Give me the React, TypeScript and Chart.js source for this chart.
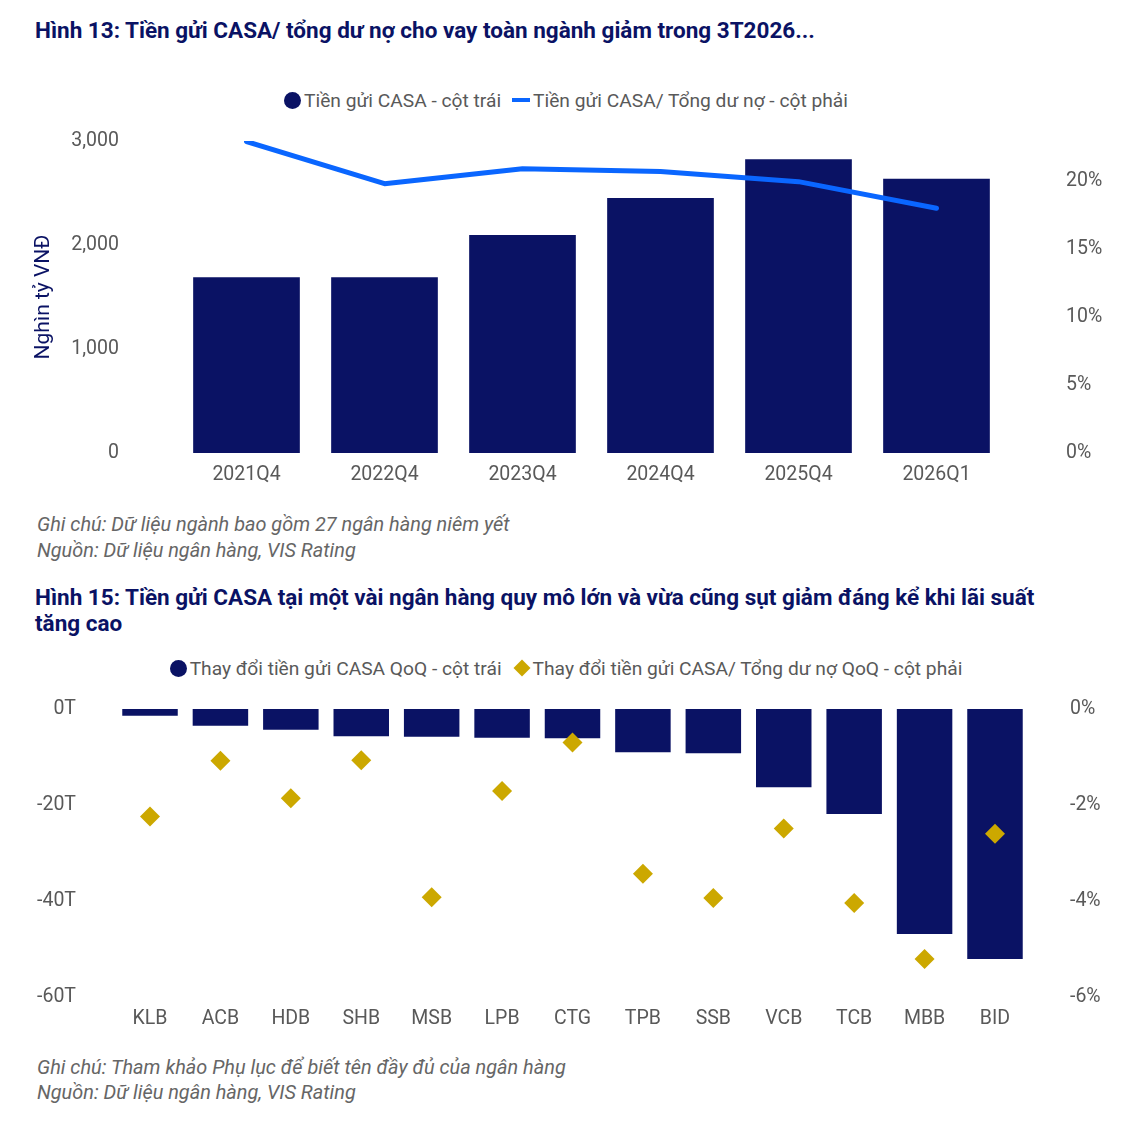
import React, { useEffect, useRef } from 'react';
import { Chart, registerables } from 'chart.js';

Chart.register(...registerables);

// ---------- Data ----------
const periods = ['2021Q4', '2022Q4', '2023Q4', '2024Q4', '2025Q4', '2026Q1'];
const casaDeposits = [1689, 1689, 2096, 2452, 2824, 2638];
const casaToLoans = [22.9, 19.8, 20.9, 20.7, 19.95, 18.0];
const leftTicks1 = [0, 1000, 2000, 3000];
const rightTicks1 = [0, 5, 10, 15, 20];

const banks = ['KLB', 'ACB', 'HDB', 'SHB', 'MSB', 'LPB', 'CTG', 'TPB', 'SSB', 'VCB', 'TCB', 'MBB', 'BID'];
const casaChangeQoQ = [-1.4, -3.5, -4.3, -5.7, -5.8, -6.0, -6.1, -9.0, -9.2, -16.3, -21.9, -46.9, -52.1];
const casaRatioChangeQoQ = [-2.24, -1.08, -1.86, -1.07, -3.92, -1.71, -0.7, -3.43, -3.94, -2.49, -4.04, -5.21, -2.6];
const leftTicks2 = [-60, -40, -20, 0];
const rightTicks2 = [-6, -4, -2, 0];

// ---------- Styles ----------
const NAVY = '#0A1264';
const BLUE = '#0A66FF';
const GOLD = '#CCA800';
const TICK = '#595959';
const FONT = 'Roboto';

Chart.defaults.font.family = FONT;

const tickFont = { family: FONT, size: 19.5 };
const noGrid = { display: false, drawTicks: false, tickLength: 0 };

function setTicks(values: number[]) {
  return (scale: any) => {
    scale.ticks = values.map((v) => ({ value: v }));
  };
}

function fitY(width: number) {
  return (s: any) => {
    s.width = width;
    s.paddingTop = 12;
    s.paddingBottom = 12;
  };
}

function ChartOne() {
  const ref = useRef<HTMLCanvasElement | null>(null);
  useEffect(() => {
    if (!ref.current) return;
    const chart = new Chart(ref.current, {
      type: 'bar',
      data: {
        labels: periods,
        datasets: [
          {
            type: 'line',
            label: 'Tiền gửi CASA/ Tổng dư nợ - cột phải',
            data: casaToLoans,
            yAxisID: 'yR',
            borderColor: BLUE,
            backgroundColor: BLUE,
            borderWidth: 5,
            pointRadius: 0,
            pointHoverRadius: 0,
            borderCapStyle: 'round',
            borderJoinStyle: 'round',
            tension: 0,
            order: 0,
          } as any,
          {
            type: 'bar',
            label: 'Tiền gửi CASA - cột trái',
            data: casaDeposits,
            yAxisID: 'yL',
            backgroundColor: NAVY,
            borderWidth: 0,
            categoryPercentage: 1,
            barPercentage: 0.773,
            order: 1,
          } as any,
        ],
      },
      options: {
        animation: false,
        responsive: true,
        maintainAspectRatio: false,
        layout: { padding: { top: 30, bottom: 0, left: 0, right: 0 } },
        plugins: { legend: { display: false }, tooltip: { enabled: false } },
        scales: {
          x: {
            grid: noGrid,
            border: { display: false },
            ticks: { color: TICK, font: tickFont, padding: 10.4, maxRotation: 0 },
            afterFit: (s: any) => {
              s.height = 40;
            },
          },
          yL: {
            position: 'left',
            min: 0,
            max: 3000,
            grid: noGrid,
            border: { display: false },
            ticks: {
              color: TICK,
              font: tickFont,
              padding: 58.5,
              callback: (v: any) => Number(v).toLocaleString('en-US'),
            },
            afterBuildTicks: setTicks(leftTicks1),
            afterFit: fitY(177.5),
            title: {
              display: true,
              text: 'Nghìn tỷ VNĐ',
              color: NAVY,
              font: { family: FONT, size: 21 },
              padding: { top: 31.5, bottom: 0 },
            },
          },
          yR: {
            position: 'right',
            min: 0,
            max: 22.94,
            grid: noGrid,
            border: { display: false },
            ticks: {
              color: TICK,
              font: tickFont,
              padding: 60.5,
              callback: (v: any) => `${v}%`,
            },
            afterBuildTicks: setTicks(rightTicks1),
            afterFit: fitY(126.5),
          },
        },
      } as any,
    });
    return () => chart.destroy();
  }, []);
  return <canvas ref={ref} />;
}

function ChartTwo() {
  const ref = useRef<HTMLCanvasElement | null>(null);
  useEffect(() => {
    if (!ref.current) return;
    const chart = new Chart(ref.current, {
      type: 'bar',
      data: {
        labels: banks,
        datasets: [
          {
            type: 'line',
            label: 'Thay đổi tiền gửi CASA/ Tổng dư nợ QoQ - cột phải',
            data: casaRatioChangeQoQ,
            yAxisID: 'yR',
            showLine: false,
            pointStyle: 'rectRot',
            pointRadius: 10,
            pointHoverRadius: 10,
            pointBackgroundColor: GOLD,
            pointBorderColor: GOLD,
            pointBorderWidth: 0,
            borderColor: GOLD,
            backgroundColor: GOLD,
            order: 0,
          } as any,
          {
            type: 'bar',
            label: 'Thay đổi tiền gửi CASA QoQ - cột trái',
            data: casaChangeQoQ,
            yAxisID: 'yL',
            backgroundColor: NAVY,
            borderWidth: 0,
            categoryPercentage: 1,
            barPercentage: 0.788,
            order: 1,
          } as any,
        ],
      },
      options: {
        animation: false,
        responsive: true,
        maintainAspectRatio: false,
        layout: { padding: { top: 30, bottom: 0, left: 0, right: 0 } },
        plugins: { legend: { display: false }, tooltip: { enabled: false } },
        scales: {
          x: {
            grid: noGrid,
            border: { display: false },
            ticks: { color: TICK, font: tickFont, padding: 10.4, maxRotation: 0, autoSkip: false },
            afterFit: (s: any) => {
              s.height = 40;
            },
          },
          yL: {
            position: 'left',
            min: -60,
            max: 0,
            grid: noGrid,
            border: { display: false },
            ticks: {
              color: TICK,
              font: tickFont,
              padding: 38.8,
              callback: (v: any) => `${v}T`,
            },
            afterBuildTicks: setTicks(leftTicks2),
            afterFit: fitY(114.8),
          },
          yR: {
            position: 'right',
            min: -6,
            max: 0,
            grid: noGrid,
            border: { display: false },
            ticks: {
              color: TICK,
              font: tickFont,
              padding: 39.8,
              callback: (v: any) => `${v}%`,
            },
            afterBuildTicks: setTicks(rightTicks2),
            afterFit: fitY(101.8),
          },
        },
      } as any,
    });
    return () => chart.destroy();
  }, []);
  return <canvas ref={ref} />;
}

const titleStyle: React.CSSProperties = {
  position: 'absolute',
  left: 35,
  fontFamily: FONT,
  fontWeight: 700,
  fontSize: 22.5,
  lineHeight: '26px',
  color: NAVY,
  whiteSpace: 'nowrap',
};

const noteStyle: React.CSSProperties = {
  position: 'absolute',
  left: 37,
  fontFamily: FONT,
  fontStyle: 'italic',
  fontSize: 19.9,
  lineHeight: '26px',
  color: '#666666',
  whiteSpace: 'nowrap',
};

const legendRow: React.CSSProperties = {
  position: 'absolute',
  left: 0,
  width: 1132,
  height: 24,
  display: 'flex',
  justifyContent: 'center',
  alignItems: 'center',
  fontFamily: FONT,
  fontSize: 19.2,
  color: TICK,
  whiteSpace: 'nowrap',
};

const circle: React.CSSProperties = {
  display: 'inline-block',
  width: 17,
  height: 17,
  borderRadius: '50%',
  background: NAVY,
  marginRight: 3,
};

export default function App() {
  return (
    <div
      style={{
        position: 'absolute',
        left: 0,
        top: 0,
        width: 1132,
        height: 1134,
        background: '#ffffff',
        overflow: 'hidden',
      }}
    >
      <div style={{ ...titleStyle, top: 17 }}>
        Hình 13: Tiền gửi CASA/ tổng dư nợ cho vay toàn ngành giảm trong 3T2026...
      </div>

      <div style={{ ...legendRow, top: 88 }}>
        <span style={circle} />
        <span>Tiền gửi CASA - cột trái</span>
        <span
          style={{
            display: 'inline-block',
            width: 18,
            height: 4,
            background: BLUE,
            marginLeft: 11,
            marginRight: 3,
          }}
        />
        <span>Tiền gửi CASA/ Tổng dư nợ - cột phải</span>
      </div>

      <div style={{ position: 'absolute', left: 0, top: 111, width: 1132, height: 382 }}>
        <ChartOne />
      </div>

      <div style={{ ...noteStyle, top: 512 }}>
        Ghi chú: Dữ liệu ngành bao gồm 27 ngân hàng niêm yết
        <br />
        Nguồn: Dữ liệu ngân hàng, VIS Rating
      </div>

      <div style={{ ...titleStyle, top: 584 }}>
        Hình 15: Tiền gửi CASA tại một vài ngân hàng quy mô lớn và vừa cũng sụt giảm đáng kể khi lãi suất
        <br />
        tăng cao
      </div>

      <div style={{ ...legendRow, top: 656 }}>
        <span style={circle} />
        <span>Thay đổi tiền gửi CASA QoQ - cột trái</span>
        <span
          style={{
            display: 'inline-block',
            width: 12,
            height: 12,
            background: GOLD,
            transform: 'rotate(45deg)',
            marginLeft: 14,
            marginRight: 5,
          }}
        />
        <span>Thay đổi tiền gửi CASA/ Tổng dư nợ QoQ - cột phải</span>
      </div>

      <div style={{ position: 'absolute', left: 0, top: 679, width: 1132, height: 358 }}>
        <ChartTwo />
      </div>

      <div style={{ ...noteStyle, top: 1055, lineHeight: '25px' }}>
        Ghi chú: Tham khảo Phụ lục để biết tên đầy đủ của ngân hàng
        <br />
        Nguồn: Dữ liệu ngân hàng, VIS Rating
      </div>
    </div>
  );
}
